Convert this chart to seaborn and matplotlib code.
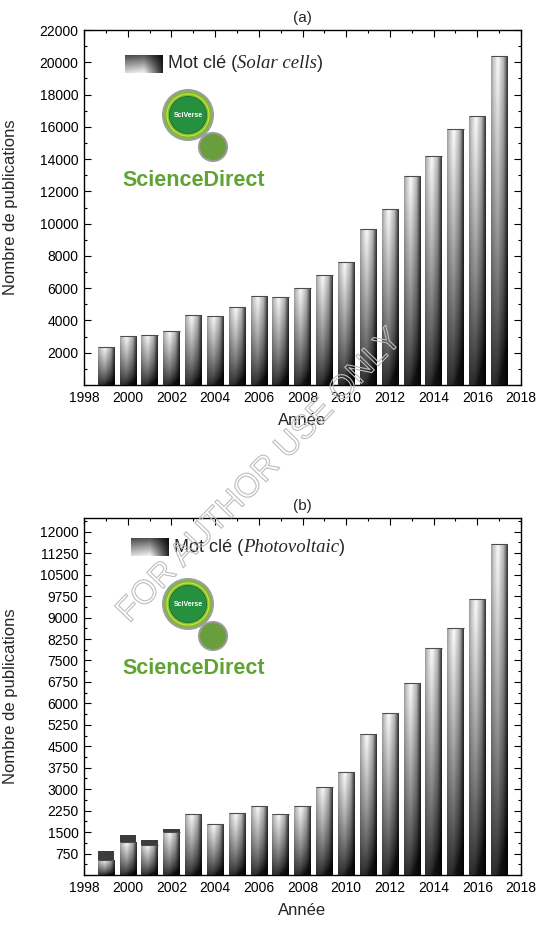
import numpy as np
import pandas as pd
import matplotlib
matplotlib.use("Agg")
import matplotlib.pyplot as plt
import matplotlib.patheffects as pe
from matplotlib.patches import Circle
from matplotlib.ticker import MultipleLocator
import seaborn as sns

# ---------------- data ----------------
years = list(range(1999, 2018))
solar_cells = [2380, 3050, 3110, 3320, 4350, 4290, 4850, 5530, 5470, 6030,
               6830, 7650, 9680, 10920, 12960, 14200, 15850, 16700, 20410]
photovoltaic = [540, 1170, 1065, 1520, 2130, 1770, 2150, 2420, 2140, 2420,
                3090, 3600, 4945, 5680, 6720, 7950, 8630, 9660, 11570]
photovoltaic_cap = [845, 1405, 1230, 1615] + [np.nan] * 15
titles = ["(a)", "(b)"]
legend_kw = ["Solar cells", "Photovoltaic"]
xlabel = "Année"
ylabel = "Nombre de publications"

sns.set_theme(style="ticks")
plt.rcParams["font.family"] = ["Liberation Sans", "DejaVu Sans"]

fig = plt.figure(figsize=(5.4, 9.26), dpi=100)
W, H = 540, 926


def ax_rect(l, t, r, b):
    return [l / W, 1 - b / H, (r - l) / W, (b - t) / H]


ax1 = fig.add_axes(ax_rect(84, 30, 521, 385))
ax2 = fig.add_axes(ax_rect(84, 518, 521, 875))


def bar_gradient(n=80):
    u = np.linspace(0, 1, n)[None, :]
    t = np.linspace(0, 1, n)[:, None]
    hprof = np.interp(u, [0, 0.12, 0.4, 0.75, 1.0], [0.6, 0.75, 0.98, 0.75, 0.2])
    vv = np.clip(t + 0.25 * (0.5 - u), 0, 1) ** 0.75
    return hprof * (0.08 + 0.92 * vv)


GRAD = bar_gradient()


def gradient_bars(ax, df, col):
    n0 = len(ax.patches)
    sns.barplot(data=df, x="year", y=col, native_scale=True, width=0.75,
                color="0.5", ax=ax, errorbar=None, zorder=2)
    for p in ax.patches[n0:]:
        x, w, h = p.get_x(), p.get_width(), p.get_height()
        if not np.isfinite(h) or h <= 0:
            continue
        p.set_facecolor("none")
        p.set_edgecolor("none")
        im = ax.imshow(GRAD, extent=[x, x + w, 0, h], origin="lower",
                       cmap="gray", vmin=0, vmax=1, aspect="auto",
                       interpolation="bilinear", zorder=3)
        im.set_clip_path(p)
        ax.plot([x, x + w], [h, h], color="0.3", lw=0.8, zorder=4,
                solid_capstyle="butt")


df1 = pd.DataFrame({"year": years, "val": solar_cells})
df2 = pd.DataFrame({"year": years, "val": photovoltaic, "cap": photovoltaic_cap})

gradient_bars(ax1, df1, "val")

# dark caps behind (b)
n0 = len(ax2.patches)
sns.barplot(data=df2.dropna(), x="year", y="cap", native_scale=True, width=0.75,
            color="#3c3c3c", ax=ax2, errorbar=None, zorder=1)
for p in ax2.patches[n0:]:
    p.set_edgecolor("none")
    p.set_zorder(1)
gradient_bars(ax2, df2, "val")

for ax, ymax, ymaj, ymin_, title in [(ax1, 22000, 2000, 1000, titles[0]),
                                     (ax2, 12480, 750, 375, titles[1])]:
    ax.xaxis.set_major_locator(MultipleLocator(2))
    ax.xaxis.set_minor_locator(MultipleLocator(1))
    ax.yaxis.set_major_locator(MultipleLocator(ymaj))
    ax.yaxis.set_minor_locator(MultipleLocator(ymin_))
    ax.tick_params(which="both", direction="in", top=True, right=True,
                   labelsize=10, colors="black", width=0.8)
    ax.tick_params(which="major", length=5, pad=4)
    ax.tick_params(which="minor", length=2.5)
    ax.set_xticks(range(1998, 2019, 2))
    ax.set_xticklabels([str(y) for y in range(1998, 2019, 2)])
    yt = [v for v in np.arange(ymaj, ymax + 1, ymaj)]
    ax.set_yticks(yt)
    ax.set_yticklabels([f"{int(v)}" for v in yt])
    ax.set_xlim(1998, 2018)
    ax.set_ylim(0, ymax)
    for s in ax.spines.values():
        s.set_linewidth(1.0)
        s.set_color("black")
    ax.set_xlabel(xlabel, fontsize=12, labelpad=6)
    ax.set_ylabel(ylabel, fontsize=12, labelpad=6)
    ax.set_title(title, fontsize=11, pad=6)
    ax.set_facecolor("white")

ax1.yaxis.set_label_coords(-0.152, 0.5)
ax2.yaxis.set_label_coords(-0.152, 0.5)

# ---------------- overlay (legend swatch, logo, watermark) ----------------
ov = fig.add_axes([0, 0, 1, 1], zorder=10)
ov.set_xlim(0, W)
ov.set_ylim(H, 0)
ov.axis("off")
ov.patch.set_alpha(0)

sw = np.linspace(0, 1, 40)[None, :]
swt = np.linspace(0, 1, 20)[:, None]
swatch = np.interp(sw, [0, 0.5, 1], [0.85, 0.95, 0.15]) * (0.35 + 0.65 * swt)
swatch = np.clip(swatch, 0, 1)

fig.canvas.draw()
renderer = fig.canvas.get_renderer()


def legend(x0, y0, y1, word):
    ov.imshow(swatch, extent=[x0, x0 + 38, y1, y0], cmap="gray", vmin=0, vmax=1,
              aspect="auto", origin="upper", zorder=5)
    yc = (y0 + y1) / 2
    inv = ov.transData.inverted()
    t1 = ov.text(x0 + 43, yc, "Mot clé (", fontsize=13, va="center", ha="left")
    bb = t1.get_window_extent(renderer)
    xd = inv.transform((bb.x1, 0))[0]
    t2 = ov.text(xd, yc, word, fontsize=13.5, va="center", ha="left",
                 family="Liberation Serif", style="italic")
    bb2 = t2.get_window_extent(renderer)
    xd2 = inv.transform((bb2.x1, 0))[0]
    ov.text(xd2, yc, ")", fontsize=13, va="center", ha="left")


legend(125, 55, 73, legend_kw[0])
legend(131, 538, 556, legend_kw[1])


def logo(cx, cy, ty):
    ov.add_patch(Circle((cx + 25, cy + 32), 14, facecolor="#6a9e3c",
                        edgecolor="#9a9a9a", lw=1.5, zorder=6))
    ov.add_patch(Circle((cx, cy), 26, facecolor="#9c9c9c", edgecolor="none", zorder=7))
    ov.add_patch(Circle((cx, cy), 24, facecolor="#7dbb3a", edgecolor="none", zorder=7))
    ov.add_patch(Circle((cx, cy), 21.5, facecolor="#e6e03a", edgecolor="none", zorder=7))
    ov.add_patch(Circle((cx, cy), 20.5, facecolor="#7dbb3a", edgecolor="none", zorder=7))
    ov.add_patch(Circle((cx, cy), 18.5, facecolor="#25913f", edgecolor="#1d6b2e",
                        lw=0.6, zorder=7))
    ov.text(cx, cy + 0.5, "SciVerse", fontsize=5, color="white", weight="bold",
            ha="center", va="center", zorder=8)
    ov.text(194, ty, "ScienceDirect", fontsize=15.5, color="#5fa332", weight="bold",
            ha="center", va="center", zorder=8)


logo(188, 115, 181)
logo(188, 604, 669)

ov.text(260, 476, "FOR AUTHOR USE ONLY", fontsize=24, rotation=46,
        ha="center", va="center", color=(1, 1, 1, 0), zorder=20,
        rotation_mode="anchor",
        path_effects=[pe.Stroke(linewidth=0.8, foreground="#bdbdbd")])

fig.savefig("out.png", dpi=100, facecolor="white")
